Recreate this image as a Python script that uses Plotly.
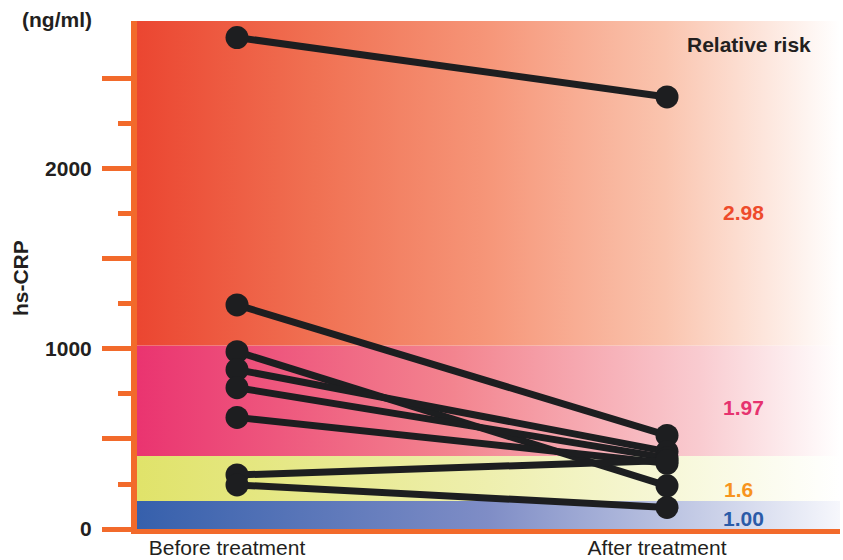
import plotly.graph_objects as go

# hs-CRP (ng/ml) per patient, before and after treatment
groups = ["Before treatment", "After treatment"]
before = [2730, 1245, 985, 885, 785, 620, 300, 245]
after = [2400, 520, 240, 430, 395, 365, 380, 120]

# relative-risk bands of hs-CRP (lower edges), labels and gradient colours
band_lower = [0, 155, 405, 1020]
risk_labels = ["1.00", "1.6", "1.97", "2.98"]
band_scales = [
    [[0, "#3660AC"], [0.5, "#7F8DC6"], [0.8, "#C5CCE6"], [1, "#F6F7FC"]],
    [[0, "#E0E36A"], [0.5, "#EEEFAE"], [1, "#FFFFFF"]],
    [[0, "#EA3470"], [0.45, "#F3848F"], [0.8, "#F9CBD0"], [1, "#FFFFFF"]],
    [[0, "#EB4631"], [0.25, "#F07052"], [0.5, "#F69679"], [0.75, "#FAC4AE"],
     [1, "#FFFFFF"]],
]
label_colors = ["#2B5BA8", "#F7941D", "#E6336F", "#EE4B2B"]

# y-axis ticks
major_ticks = [0, 500, 1000, 1500, 2000, 2500]
major_text = ["0", "", "1000", "", "2000", ""]
minor_ticks = [250, 750, 1250, 1750, 2250]

Y_TOP = 2822
X_RANGE = [-0.2326, 1.4023]
ORANGE = "#F26A2B"
INK = "#231F20"
FONT = "Liberation Sans, Arial, sans-serif"
FS = 21

fig = go.Figure()

# gradient background bands
edges = band_lower + [Y_TOP]
for i in range(len(band_lower)):
    y0, y1 = edges[i], edges[i + 1]
    x0, x1 = X_RANGE
    fig.add_trace(go.Scatter(
        x=[x0, x1, x1, x0, x0], y=[y0, y0, y1, y1, y0],
        mode="none", fill="toself",
        fillgradient=dict(type="horizontal", colorscale=band_scales[i]),
        hoverinfo="skip", showlegend=False,
    ))

# paired patient lines
for b, a in zip(before, after):
    fig.add_trace(go.Scatter(
        x=[0, 1], y=[b, a], mode="lines+markers",
        line=dict(color="#1D1E20", width=7),
        marker=dict(color="#1D1E20", size=23),
        showlegend=False,
    ))


def note(text, x, y, color=INK, angle=0):
    fig.add_annotation(text=f"<b>{text}</b>", xref="paper", yref="paper",
                       x=x, y=y, xanchor="center", yanchor="middle",
                       showarrow=False, textangle=angle,
                       font=dict(size=FS, color=color, family=FONT))


# relative-risk labels
note("Relative risk", 0.871, 0.9547)
label_pos = [(0.8634, 0.0197), (0.855, 0.0787), (0.8634, 0.240), (0.8634, 0.624)]
for (px, py), txt, col in zip(label_pos, risk_labels, label_colors):
    note(txt, px, py, col)

# axis titles
note("(ng/ml)", -0.1138, 1.002)
note("hs-CRP", -0.1664, 0.494, angle=-90)

fig.update_xaxes(
    range=X_RANGE, showgrid=False, zeroline=False, automargin=False,
    showline=True, linecolor=ORANGE, linewidth=5,
    tickmode="array", tickvals=[0, 1], ticktext=groups, ticks="",
    ticklabelshift=-10, ticklabelstandoff=-4,
    tickfont=dict(size=FS, color=INK, family=FONT),
)
fig.update_yaxes(
    range=[0, Y_TOP], showgrid=False, zeroline=False, automargin=False,
    showline=True, linecolor=ORANGE, linewidth=6,
    tickmode="array", tickvals=major_ticks, ticktext=major_text,
    ticks="outside", ticklen=29, tickwidth=5, tickcolor=ORANGE,
    ticklabelstandoff=6,
    minor=dict(tickmode="array", tickvals=minor_ticks, ticks="outside",
               ticklen=13, tickwidth=5, tickcolor=ORANGE, showgrid=False),
    tickfont=dict(size=FS, color=INK, family=FONT, weight="bold"),
)

fig.update_layout(
    width=843, height=560,
    margin=dict(l=137, r=3, t=21, b=31),
    plot_bgcolor="white", paper_bgcolor="white",
    font=dict(family=FONT, color=INK),
)

fig.write_html("out.html")
